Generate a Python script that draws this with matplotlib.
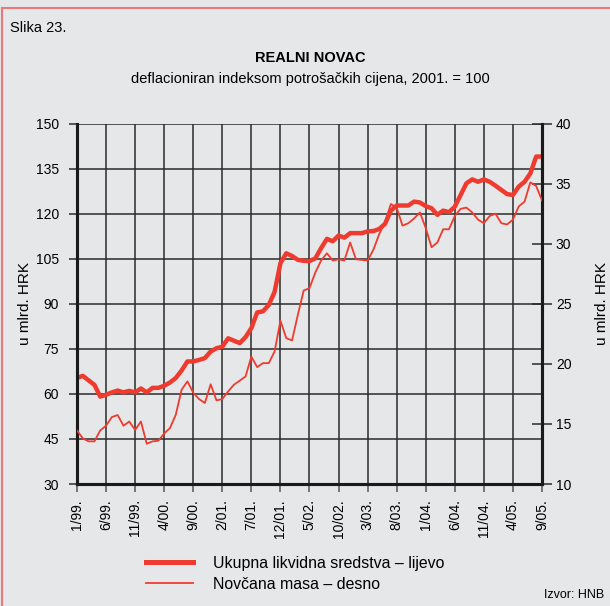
import numpy as np
import matplotlib
matplotlib.use('Agg')
import matplotlib.pyplot as plt
from matplotlib.lines import Line2D

plt.rcParams['font.family'] = ['Liberation Sans', 'DejaVu Sans']

#Monthly data 1/99 - 9/05 (81 months)
ukupna = [65.3, 66.0, 64.5, 63.0, 59.1, 59.7, 60.5, 61.1, 60.5, 61.0,
          60.5, 61.8, 60.5, 62.0, 62.0, 62.7, 63.8, 65.3, 67.8, 70.8,
          70.8, 71.3, 71.9, 74.1, 75.2, 75.7, 78.5, 77.7, 76.9, 78.9,
          81.9, 87.1, 87.5, 89.6, 94.0, 103.5, 106.8, 105.9, 104.6, 104.3,
          104.2, 105.1, 108.5, 111.6, 110.8, 112.7, 112.0, 113.5, 113.5, 113.5,
          114.1, 114.2, 114.9, 116.6, 121.0, 122.7, 122.7, 122.7, 124.0, 123.7,
          122.5, 121.8, 119.6, 121.0, 120.5, 122.3, 126.2, 130.1, 131.4, 130.6,
          131.4, 130.6, 129.3, 127.9, 126.5, 126.2, 129.0, 130.6, 133.4, 139.0,
          139.0]
novcana = [14.46, 13.8, 13.55, 13.55, 14.46, 14.85, 15.57, 15.74, 14.85, 15.2,
           14.5, 15.2, 13.35, 13.55, 13.6, 14.2, 14.66, 15.77, 17.85, 18.54,
           17.6, 17.07, 16.74, 18.3, 16.96, 17.07, 17.7, 18.26, 18.6, 18.95,
           20.6, 19.73, 20.06, 20.06, 21.03, 23.6, 22.14, 21.95, 24.08, 26.1,
           26.3, 27.6, 28.6, 29.2, 28.6, 28.7, 28.6, 30.1, 28.7, 28.65,
           28.6, 29.5, 30.8, 31.8, 33.3, 33.0, 31.5, 31.7, 32.1, 32.6,
           31.3, 29.7, 30.1, 31.2, 31.2, 32.3, 32.9, 33.0, 32.6, 32.0,
           31.7, 32.3, 32.5, 31.7, 31.6, 32.0, 33.1, 33.5, 35.1, 34.8,
           33.6]
x_labels = ['1/99.', '6/99.', '11/99.', '4/00.', '9/00.', '2/01.', '7/01.', '12/01.',
            '5/02.', '10/02.', '3/03.', '8/03.', '1/04.', '6/04.', '11/04.', '4/05.', '9/05.']
left_ticks = [30, 45, 60, 75, 90, 105, 120, 135, 150]
right_ticks = [10, 15, 20, 25, 30, 35, 40]

bg = '#e6e7e8'
red = '#ef3b2f'
months = np.arange(len(ukupna))

fig = plt.figure(figsize=(6.1, 6.06), dpi=100, facecolor=bg)
ax = fig.add_axes([0.1262, 0.2013, 0.7623, 0.5949], facecolor=bg)
ax2 = ax.twinx()

ax.plot(months, ukupna, color=red, lw=3.2, solid_joinstyle='round', zorder=5)
ax2.plot(months, novcana, color=red, lw=1.3, zorder=5)

ax.set_xlim(0, 80)
ax.set_ylim(30, 150)
ax2.set_ylim(10, 40)
ax.set_xticks(np.arange(0, 81, 5))
ax.set_xticklabels(x_labels, rotation=90, fontsize=10)
ax.set_yticks(left_ticks)
ax.set_yticklabels([str(t) for t in left_ticks], fontsize=10)
ax2.set_yticks(right_ticks)
ax2.set_yticklabels([str(t) for t in right_ticks], fontsize=10)

ax.grid(True, color='#2a2a2a', lw=1.1)
ax.set_axisbelow(True)
ax.tick_params(axis='y', direction='out', length=6, width=1.1, color='#2a2a2a', pad=7)
ax.tick_params(axis='x', direction='inout', length=12, width=1.1, color='#555555', pad=5)
ax2.tick_params(axis='y', direction='inout', length=14, width=1.1, color='#2a2a2a', pad=3)

for a in (ax, ax2):
    a.spines['top'].set_visible(False)
    for s in ('left', 'right', 'bottom'):
        a.spines[s].set_linewidth(2.2)
        a.spines[s].set_color('#1a1a1a')

ax.set_ylabel('u mlrd. HRK', fontsize=11, labelpad=3)
ax2.set_ylabel('u mlrd. HRK', fontsize=11, labelpad=17)

fig.text(0.016, 0.953, 'Slika 23.', fontsize=10.5, va='center')
fig.text(0.508, 0.905, 'REALNI NOVAC', fontsize=10.5, fontweight='bold', ha='center', va='center')
fig.text(0.508, 0.869, 'deflacioniran indeksom potrošačkih cijena, 2001. = 100', fontsize=10.5,
         ha='center', va='center')

handles = [Line2D([], [], color=red, lw=3.6), Line2D([], [], color=red, lw=1.3)]
fig.legend(handles, ['Ukupna likvidna sredstva – lijevo', 'Novčana masa – desno'],
           loc='upper left', bbox_to_anchor=(0.239, 0.083),
           bbox_transform=fig.transFigure, frameon=False, fontsize=11.4,
           handlelength=3.0, handletextpad=1.25, labelspacing=0.4,
           borderpad=0, borderaxespad=0)

fig.text(0.99, 0.008, 'Izvor: HNB', fontsize=9, ha='right', va='bottom')

#Figure border (top and left)
fig.add_artist(Line2D([0.003, 0.003], [0, 0.987], color='#ea7a7a', lw=1.5, transform=fig.transFigure))
fig.add_artist(Line2D([0.003, 1.0], [0.987, 0.987], color='#ea7a7a', lw=1.5, transform=fig.transFigure))

plt.savefig('out.png', dpi=100, facecolor=bg)
